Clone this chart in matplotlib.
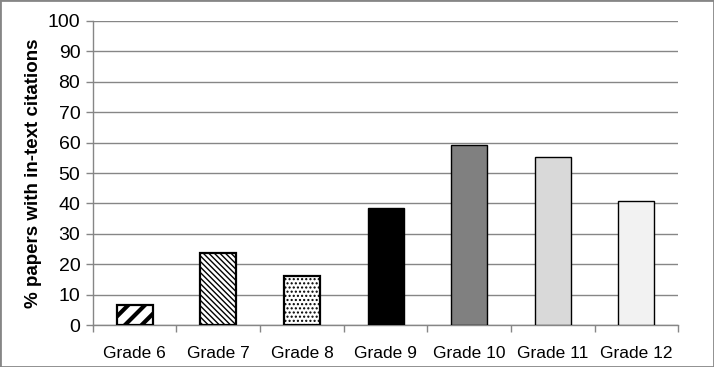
import matplotlib.pyplot as plt
import matplotlib as mpl
import numpy as np

grades = ["Grade 6", "Grade 7", "Grade 8", "Grade 9", "Grade 10", "Grade 11", "Grade 12"]
percents = [6.6, 23.8, 16.2, 38.6, 59.2, 55.2, 40.8]
fills = ["white", "white", "white", "black", "#808080", "#d9d9d9", "#f2f2f2"]
hatches = ["//", "\\\\\\\\\\\\", "....", None, None, None, None]
yticks = list(range(0, 101, 10))

plt.rcParams['font.family'] = ['Liberation Sans', 'DejaVu Sans']

fig = plt.figure(figsize=(7.14, 3.67), dpi=100)
ax = fig.add_axes([0.130, 0.1144, 0.820, 0.8284])

x = np.arange(len(grades))
bars = ax.bar(x, percents, width=0.43, color=fills, edgecolor="black", linewidth=1.0, zorder=3)
for i, b in enumerate(bars):
    if hatches[i]:
        b.set_hatch(hatches[i])
        b.set_linewidth(1.6)
        if hasattr(b, "set_hatch_linewidth"):
            b.set_hatch_linewidth(3.0 if i == 0 else 1.0)

ax.set_xlim(-0.5, len(grades) - 0.5)
ax.set_ylim(0, 100)
ax.set_yticks(yticks)
ax.yaxis.grid(True, color="#868686", linewidth=1.0, zorder=0)

ax.set_xticks(x)
ax.set_xticklabels(grades, fontsize=12.5)
ax.set_xticks(np.arange(-0.5, len(grades), 1.0), minor=True)
ax.tick_params(axis="x", which="major", length=0, pad=15)
ax.tick_params(axis="x", which="minor", length=5, color="#868686", width=1.0)
ax.tick_params(axis="y", length=5, color="#868686", width=1.0, labelsize=14, pad=4)

for s in ["top", "right"]:
    ax.spines[s].set_visible(False)
for s in ["left", "bottom"]:
    ax.spines[s].set_color("#868686")
    ax.spines[s].set_linewidth(1.0)

ax.set_ylabel("% papers with in-text citations", fontsize=13.5, fontweight="bold", labelpad=4)

fig.patches.append(mpl.patches.Rectangle((0, 0), 1, 1, transform=fig.transFigure,
                                         fill=False, edgecolor="#868686", linewidth=2))

plt.savefig("out.png", dpi=100)
